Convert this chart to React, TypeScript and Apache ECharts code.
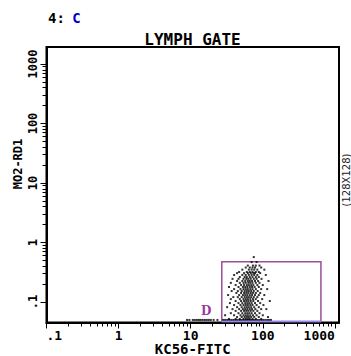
import React, { useEffect, useRef } from 'react';
import * as echarts from 'echarts';

const X_MIN = 0.1;
const X_MAX = 1140;
const Y_MIN = 0.0453;
const Y_MAX = 1930;

const xMajorTicks = [0.1, 1, 10, 100, 1000];
const xTickLabels = ['.1', '1', '10', '100', '1000'];
const xMinorTicks = [
  0.2, 0.3, 0.4, 0.5, 0.6, 0.7, 0.8, 0.9,
  2, 3, 4, 5, 6, 7, 8, 9,
  20, 30, 40, 50, 60, 70, 80, 90,
  200, 300, 400, 500, 600, 700, 800, 900,
];
const yMajorTicks = [0.1, 1, 10, 100, 1000];
const yTickLabels = ['.1', '1', '10', '100', '1000'];
const yMinorTicks = [
  0.2, 0.3, 0.4, 0.5, 0.6, 0.7, 0.8, 0.9,
  2, 3, 4, 5, 6, 7, 8, 9,
  20, 30, 40, 50, 60, 70, 80, 90,
  200, 300, 400, 500, 600, 700, 800, 900,
];

// cluster events, row by row (y value, list of x values)
const rowY = [
  0.57, 0.47, 0.41, 0.38, 0.35, 0.32, 0.306, 0.285, 0.263, 0.245,
  0.226, 0.21, 0.193, 0.179, 0.165, 0.153, 0.142, 0.131, 0.121, 0.112,
  0.104, 0.096, 0.089, 0.082, 0.076, 0.071, 0.065, 0.06, 0.056, 0.052,
];
const rowX = [
  [75],
  [70, 82],
  [62, 73, 80, 90],
  [58, 66, 72, 78, 95],
  [52, 64, 70, 76, 84, 105],
  [47, 60, 66, 72, 80, 88],
  [44, 55, 62, 68, 74, 78, 92],
  [40, 52, 58, 64, 70, 76, 84, 110],
  [48, 56, 60, 66, 72, 80, 88],
  [38, 46, 54, 59, 63, 68, 75, 82, 96],
  [44, 52, 57, 62, 66, 71, 78, 86, 120],
  [36, 48, 54, 58, 63, 67, 72, 80, 90],
  [42, 50, 55, 60, 64, 69, 74, 84, 100],
  [34, 46, 53, 57, 61, 66, 71, 77, 88],
  [40, 49, 54, 58, 62, 67, 72, 80, 95, 115],
  [37, 45, 51, 56, 60, 64, 69, 75, 85],
  [43, 50, 55, 59, 63, 68, 73, 80, 92],
  [33, 47, 53, 57, 61, 66, 71, 78, 88, 105],
  [39, 45, 51, 56, 60, 64, 69, 75, 84],
  [36, 48, 54, 58, 62, 67, 73, 80, 98],
  [42, 50, 55, 59, 63, 68, 74, 86, 125],
  [35, 46, 52, 57, 61, 65, 70, 78, 92],
  [40, 49, 54, 58, 62, 67, 72, 82, 102],
  [32, 44, 51, 56, 60, 64, 69, 76, 88],
  [38, 47, 53, 57, 61, 66, 71, 79, 95, 112],
  [42, 50, 55, 59, 63, 68, 74, 84],
  [36, 46, 52, 57, 61, 65, 70, 78, 90],
  [30, 40, 49, 54, 58, 62, 67, 73, 82, 100],
  [44, 51, 56, 60, 64, 69, 76, 88, 118],
  [34, 42, 48, 54, 58, 62, 66, 72, 80, 95],
];
// off-scale events piled up on the bottom edge
const floorY = 0.05;
const floorX = [
  8.9, 9.6, 10.7, 11.4, 12.2, 13.0, 13.8, 14.7, 15.7, 16.7, 17.8, 19.0, 20.8, 23.5,
  28.2, 30, 32, 34.2, 36.4, 38.8, 41.4, 44.1, 47, 50, 53.4, 57, 60.7, 64.7, 69,
  73.5, 78.3, 83.5, 89, 95, 101, 108, 115, 122, 130,
];

const gateX = [27, 640];
const gateY = [0.047, 0.475];
const gateLabel = 'D';
const gateLabelPos = [16.4, 0.0706];

const FONT = 'DejaVu Sans Mono';

function labelFor(ticks: number[], labels: string[], v: number) {
  const i = ticks.findIndex((t) => Math.abs(Math.log10(t) - Math.log10(v)) < 1e-6);
  return i >= 0 ? labels[i] : '';
}

export default function App() {
  const ref = useRef<HTMLDivElement>(null);
  useEffect(() => {
    if (!ref.current) return;
    const chart = echarts.init(ref.current, undefined, { renderer: 'svg' });
    const points: number[][] = [];
    rowY.forEach((y, i) => rowX[i].forEach((x) => points.push([x, y])));
    floorX.forEach((x) => points.push([x, floorY]));

    const baseX = {
      type: 'log' as const,
      min: X_MIN,
      max: X_MAX,
      position: 'bottom' as const,
      splitLine: { show: false },
    };
    const baseY = {
      type: 'log' as const,
      min: Y_MIN,
      max: Y_MAX,
      position: 'left' as const,
      splitLine: { show: false },
    };

    chart.setOption({
      animation: false,
      title: {
        text: 'LYMPH GATE',
        left: 192.5,
        top: 31,
        padding: 0,
        textAlign: 'center',
        textStyle: { fontFamily: FONT, fontWeight: 'bold', fontSize: 16, color: '#000' },
      },
      grid: {
        left: 46.5,
        right: 12,
        top: 47,
        bottom: 33.5,
        containLabel: false,
        outerBoundsMode: 'none',
        show: true,
        borderColor: '#000',
        borderWidth: 2,
        backgroundColor: '#fff',
      },
      xAxis: [
        {
          ...baseX,
          name: 'KC56-FITC',
          nameLocation: 'middle',
          nameGap: 19.5,
          nameMoveOverlap: false,
          nameTextStyle: { fontFamily: FONT, fontWeight: 'bold', fontSize: 14, color: '#000', lineHeight: 14 },
          axisLine: { show: true, lineStyle: { color: '#000', width: 2 } },
          axisTick: { show: true, length: 6, customValues: xMajorTicks, lineStyle: { color: '#000', width: 1 } },
          axisLabel: {
            customValues: xMajorTicks,
            formatter: (v: number) => labelFor(xMajorTicks, xTickLabels, v),
            fontFamily: FONT,
            fontWeight: 'bold',
            fontSize: 13,
            lineHeight: 13,
            color: '#000',
            margin: 6,
            alignMinLabel: 'left',
            alignMaxLabel: 'right',
          },
        },
        {
          ...baseX,
          axisLine: { show: false },
          axisTick: { show: true, length: 4, customValues: xMinorTicks, lineStyle: { color: '#000', width: 1 } },
          axisLabel: { show: false },
        },
      ],
      yAxis: [
        {
          ...baseY,
          axisLine: { show: true, lineStyle: { color: '#000', width: 2 } },
          axisTick: { show: true, length: 6, customValues: yMajorTicks, lineStyle: { color: '#000', width: 1 } },
          axisLabel: {
            customValues: yMajorTicks,
            formatter: (v: number) => labelFor(yMajorTicks, yTickLabels, v),
            rotate: 90,
            fontFamily: FONT,
            fontWeight: 'bold',
            fontSize: 12,
            color: '#000',
            margin: 8,
          },
        },
        {
          ...baseY,
          axisLine: { show: false },
          axisTick: { show: true, length: 4, customValues: yMinorTicks, lineStyle: { color: '#000', width: 1 } },
          axisLabel: { show: false },
        },
      ],
      graphic: [
        {
          type: 'text',
          left: 48,
          top: 11,
          style: {
            text: '{a|4:} {b|C}',
            rich: {
              a: { fontFamily: FONT, fontWeight: 'bold', fontSize: 14, fill: '#000' },
              b: { fontFamily: FONT, fontWeight: 'bold', fontSize: 14, fill: '#0000cc', padding: [0, 0, 0, 4] },
            },
          },
        },
        {
          type: 'text',
          x: 17.5,
          y: 164,
          rotation: Math.PI / 2,
          style: {
            text: 'MO2-RD1',
            fontFamily: FONT,
            fontWeight: 'bold',
            fontSize: 12,
            fill: '#000',
            align: 'center',
            verticalAlign: 'middle',
          },
        },
        {
          type: 'text',
          x: 346.5,
          y: 180,
          rotation: Math.PI / 2,
          style: {
            text: '(128X128)',
            fontFamily: 'DejaVu Sans',
            fontSize: 10,
            fill: '#222',
            align: 'center',
            verticalAlign: 'middle',
          },
        },
      ],
      series: [
        {
          type: 'scatter',
          xAxisIndex: 0,
          yAxisIndex: 0,
          data: points,
          symbol: 'rect',
          symbolSize: 2,
          itemStyle: { color: '#000' },
          silent: true,
          markArea: {
            silent: true,
            itemStyle: { color: 'rgba(0,0,0,0)', borderColor: '#9b4f9b', borderWidth: 1.5 },
            data: [[{ coord: [gateX[0], gateY[1]] }, { coord: [gateX[1], gateY[0]] }]],
          },
        },
        {
          type: 'line',
          xAxisIndex: 0,
          yAxisIndex: 0,
          data: [[gateX[0], gateY[0]], [gateX[1], gateY[0]]],
          symbol: 'none',
          lineStyle: { color: '#8c8cf0', width: 1.5 },
          silent: true,
          z: 3,
        },
        {
          type: 'scatter',
          xAxisIndex: 0,
          yAxisIndex: 0,
          data: [gateLabelPos],
          symbolSize: 0,
          silent: true,
          label: {
            show: true,
            position: 'inside',
            formatter: gateLabel,
            fontFamily: 'DejaVu Serif',
            fontWeight: 'bold',
            fontSize: 12,
            color: '#800080',
          },
        },
      ],
    });
    return () => chart.dispose();
  }, []);
  return <div ref={ref} style={{ position: 'absolute', left: 0, top: 0, width: 351, height: 356 }} />;
}
